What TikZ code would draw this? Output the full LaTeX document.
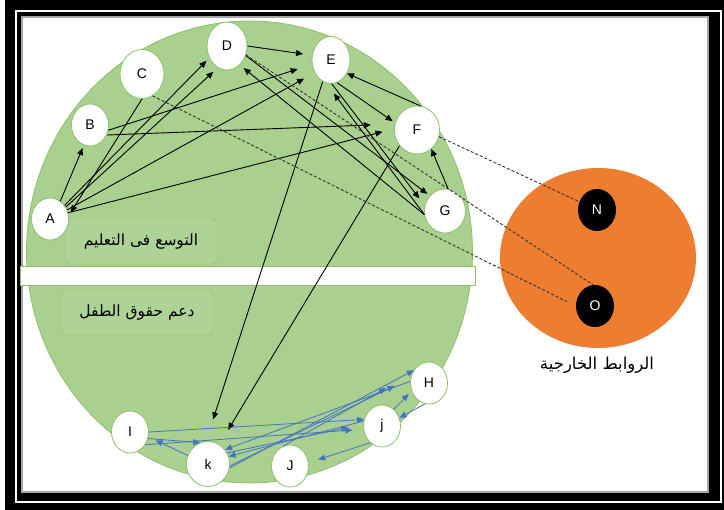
\documentclass[tikz,border=0pt]{standalone}
\usepackage{fontspec}
\setmainfont{Liberation Sans}
\newfontfamily\arabicfont[Script=Arabic]{DejaVu Sans}
\TeXXeTstate=1
\usetikzlibrary{shapes.geometric,arrows.meta}
\definecolor{leaf}{HTML}{A9D08E}
\definecolor{leafline}{HTML}{8CC16A}
\definecolor{tagfill}{HTML}{ADD396}
\definecolor{flame}{HTML}{ED7D31}
\definecolor{wire}{HTML}{4472C4}

\begin{document}
\begin{tikzpicture}[x=1pt, y=-1pt,
    member/.style={ellipse, draw=leafline, fill=white, line width=0.8pt, minimum width=37pt, minimum height=42pt, inner sep=0pt, font=\fontsize{14}{14}\selectfont},
    outer/.style={ellipse, fill=black, text=white, minimum width=38pt, minimum height=42pt, inner sep=0pt, font=\fontsize{14}{14}\selectfont},
    tag/.style={draw=leafline, fill=tagfill, rounded corners=5pt, minimum width=152pt, minimum height=45pt, font=\arabicfont\fontsize{15.5}{15.5}\selectfont},
    link/.style={-{Triangle[length=7pt,width=6pt]}, line width=0.9pt},
    bluelink/.style={-{Triangle[length=7pt,width=6pt]}, draw=wire, line width=0.8pt},
    ext/.style={dash pattern=on 3pt off 2pt, draw=black!80, line width=0.9pt}
]
    \useasboundingbox (0,0) rectangle (724,510);
    % frame
    \fill[white] (0,0) rectangle (724,510);
    \fill[black] (5,0) rectangle (724,510);
    \draw[white, line width=2pt] (16,11.5) rectangle (721,502);
    \fill[white] (21,16) rectangle (709,493);
    \draw[black!35, line width=2pt] (22,17) rectangle (708,492);

    % groups
    \draw[leafline, fill=leaf, line width=0.8pt] (249.5,252) ellipse [x radius=223pt, y radius=231pt];
    \fill[flame] (598,258) ellipse [x radius=98pt, y radius=90pt];
    \draw[leafline, fill=white, line width=0.8pt] (20,266) rectangle (475,285);
    \node[tag] (edu) at (141,241.5) {\beginR التوسع فى التعليم\endR};
    \node[tag] (rights) at (137,312.5) {\beginR دعم حقوق الطفل\endR};
    \node[font=\arabicfont\fontsize{16.5}{16.5}\selectfont] (links) at (597,365) {\beginR الروابط الخارجية\endR};

    % members
    \node[member] (A) at (50,219) {A};
    \node[member] (B) at (90,125) {B};
    \node[member, minimum width=44pt, minimum height=49pt] (C) at (142,74) {C};
    \node[member, minimum width=40pt, minimum height=48pt] (D) at (227,46) {D};
    \node[member, minimum width=38pt, minimum height=47pt] (E) at (331,60) {E};
    \node[member, minimum width=45pt, minimum height=48pt] (F) at (417,130) {F};
    \node[member, minimum width=41pt, minimum height=44pt] (G) at (445,211) {G};
    \node[member] (H) at (429,383) {H};
    \node[member] (j) at (382,426) {j};
    \node[member] (I) at (130,432) {I};
    \node[member, minimum width=43pt, minimum height=45pt] (k) at (208,464) {k};
    \node[member] (J) at (290,466) {J};
    \node[outer] (N) at (597,210) {N};
    \node[outer] (O) at (595,306) {O};

    % links inside
    \draw[link, shorten >=3pt] (A.60) -- (B.253);
    \draw[link, shorten >=4pt] (A.43) -- (D.214);
    \draw[link, shorten >=6pt] (A.37) -- (D.247);
    \draw[link, shorten >=12pt] (A.28) -- (E.218);
    \draw[link, shorten >=12pt] (A.19) -- (F.177);
    \draw[link, shorten >=15pt] (B.344) -- (E.193);
    \draw[link, shorten >=24pt] (B.329) -- (F.165);
    \draw[link, shorten >=4pt] (C.270) -- (A.10);
    \draw[link, shorten >=9pt] (D.0) -- (E.166);
    \draw[link, shorten >=3pt] (D.333) -- (G.135);
    \draw[link, shorten >=5pt] (G.190) -- (D.304);
    \draw[link, shorten >=3pt] (E.285) -- (F.162);
    \draw[link] (F.82) -- (E.320);
    \draw[link, shorten >=9pt] (E.272) -- (G.165);
    \draw[link, shorten >=13pt] (G.190) -- (E.258);
    \draw[link] (G.82) -- (F.307);
    \draw[link, shorten >=23pt] (E.249) -- (k.95);
    \draw[link, shorten >=17pt] (F.222) -- (k.60);

    % external ties
    \draw[ext] (F.343) -- (N.155);
    \draw[ext] (D.335) -- (O.95);
    \draw[ext, shorten >=10pt] (C.296) -- (O.180);

    % links below
    \draw[bluelink] (I.0) -- (j.160);
    \draw[bluelink, shorten >=11pt] (I.320) -- (j.190);
    \draw[bluelink] (I.340) -- (k.110);
    \draw[bluelink, shorten >=8pt] (k.157) -- (I.345);
    \draw[bluelink] (H.175) -- (k.40);
    \draw[bluelink] (j.165) -- (k.20);
    \draw[bluelink] (k.350) -- (H.140);
    \draw[bluelink, shorten >=18pt] (k.355) -- (H.165);
    \draw[bluelink, shorten >=30pt] (J.110) -- (H.150);
    \draw[bluelink, shorten >=4pt] (j.55) -- (H.205);
    \draw[bluelink] (H.259) -- (j.25);
    \draw[bluelink, shorten >=10pt] (j.235) -- (J.10);
    \draw[bluelink, shorten >=15pt] (k.30) -- (j.175);
\end{tikzpicture}
\end{document}
